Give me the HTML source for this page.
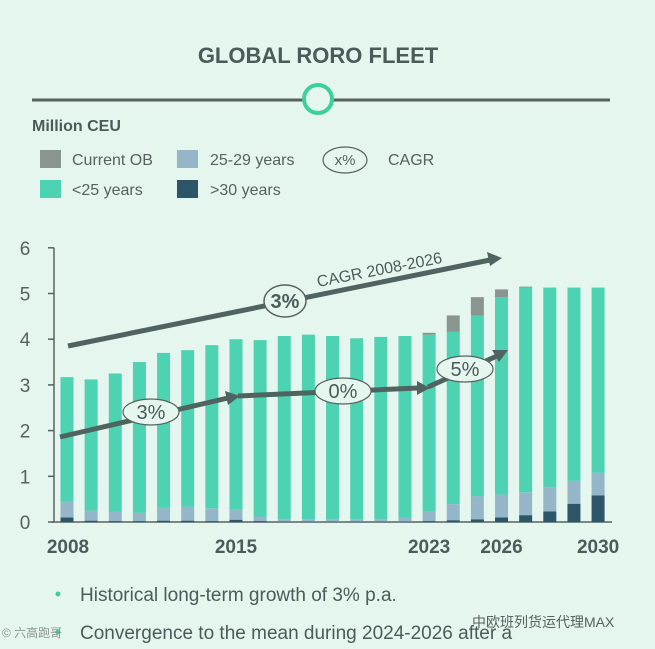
<!DOCTYPE html>
<html><head><meta charset="utf-8"><style>
body{margin:0;background:#e5f6ee;width:655px;height:649px;overflow:hidden;font-family:"Liberation Sans","Noto Sans CJK SC",sans-serif;}
</style></head><body>
<svg width="655" height="649" style="position:absolute;left:0;top:0">
<rect width="655" height="649" fill="#e5f6ee"/>
<text x="318" y="63" text-anchor="middle" font-size="22" font-weight="bold" fill="#4b5b59">GLOBAL RORO FLEET</text>
<line x1="32" y1="100" x2="610" y2="100" stroke="#56625f" stroke-width="3"/>
<circle cx="318" cy="99" r="14" fill="#e5f6ee" stroke="#3ecf9f" stroke-width="4"/>
<text x="32" y="131" font-size="16" font-weight="bold" fill="#4b5b59">Million CEU</text>
<g font-size="16" fill="#56625f">
<rect x="40" y="150" width="21" height="18" fill="#8a958f"/>
<text x="72" y="165">Current OB</text>
<rect x="40" y="180" width="21" height="18" fill="#4dd2b2"/>
<text x="72" y="195">&lt;25 years</text>
<rect x="177" y="150" width="21" height="18" fill="#95b6c8"/>
<text x="210" y="165">25-29 years</text>
<rect x="177" y="180" width="21" height="18" fill="#2c5568"/>
<text x="210" y="195">&gt;30 years</text>
<ellipse cx="345" cy="160" rx="22" ry="13" fill="none" stroke="#56625f" stroke-width="1.2"/>
<text x="345" y="165" text-anchor="middle" font-size="15">x%</text>
<text x="388" y="165">CAGR</text>
</g>
<g id="axes"></g>
<g id="bars"></g>
<g id="annot" fill="none" stroke="#4f6461" stroke-width="5">
<line x1="68" y1="346" x2="490" y2="260"/>
<polygon points="502,258 487,252 490,266" fill="#4f6461" stroke="none"/>
<polyline points="60,437 228,398"/>
<polygon points="240,396 225,391 228,405" fill="#4f6461" stroke="none"/>
<polyline points="238,396 418,388"/>
<polygon points="430,388 417,381 417,395" fill="#4f6461" stroke="none"/>
<polyline points="428,387 497,356"/>
<polygon points="508,350 492,350 499,362" fill="#4f6461" stroke="none"/>
</g>
<text x="318" y="287" transform="rotate(-11 318 287)" font-size="16" fill="#4b5b59">CAGR 2008-2026</text>
<g font-size="20" fill="#4b5b59" text-anchor="middle">
<ellipse cx="285" cy="301" rx="21" ry="16" fill="#e5f6ee" stroke="#56625f" stroke-width="1.5"/>
<text x="285" y="308" font-weight="bold">3%</text>
<ellipse cx="151" cy="412" rx="28" ry="13" fill="#e5f6ee" stroke="#56625f" stroke-width="1.2"/>
<text x="151" y="419">3%</text>
<ellipse cx="343" cy="391" rx="28" ry="13" fill="#e5f6ee" stroke="#56625f" stroke-width="1.2"/>
<text x="343" y="398">0%</text>
<ellipse cx="465" cy="369" rx="28" ry="13" fill="#e5f6ee" stroke="#56625f" stroke-width="1.2"/>
<text x="465" y="376">5%</text>
</g>
<circle cx="58" cy="594" r="2.5" fill="#3ecf9f"/>
<text x="80" y="601" font-size="19" fill="#4b5b59">Historical long-term growth of 3% p.a.</text>
<circle cx="58" cy="632" r="2.5" fill="#3ecf9f"/>
<text x="80" y="639" font-size="19" fill="#4b5b59">Convergence to the mean during 2024-2026 after a</text>
<text x="2" y="637" font-size="12" fill="#8a958f">© 六高跑哥</text>
<text x="472" y="627" font-size="14" fill="#56625f">中欧班列货运代理MAX</text>
</svg>
<script>
const years=[2008,2009,2010,2011,2012,2013,2014,2015,2016,2017,2018,2019,2020,2021,2022,2023,2024,2025,2026,2027,2028,2029,2030];
const totals=[3.17,3.12,3.25,3.5,3.7,3.76,3.87,4.0,3.98,4.07,4.1,4.07,4.02,4.05,4.07,4.1,4.16,4.52,4.92,5.13,5.13,5.13,5.13];
const old30=[0.1,0.03,0.02,0.02,0.03,0.03,0.02,0.05,0.02,0.01,0.01,0.01,0.01,0.01,0.01,0.02,0.04,0.06,0.1,0.15,0.23,0.4,0.58];
const mid2529=[0.35,0.22,0.2,0.18,0.28,0.3,0.28,0.22,0.1,0.05,0.05,0.05,0.05,0.05,0.08,0.22,0.35,0.5,0.5,0.5,0.53,0.5,0.5];
const orderbook=[0,0,0,0,0,0,0,0,0,0,0,0,0,0,0,0.04,0.36,0.4,0.17,0.02,0,0,0];
const yTicks=[0,1,2,3,4,5,6];
const xLabels=[2008,2015,2023,2026,2030];
const NS="http://www.w3.org/2000/svg";
const y=v=>522-v*45.7;
const x=i=>67+i*24.14;
const bw=13;
const ax=document.getElementById('axes'),bg=document.getElementById('bars');
function mk(t,a,p){const e=document.createElementNS(NS,t);for(const k in a)e.setAttribute(k,a[k]);p.appendChild(e);return e;}
let l=mk('line',{x1:52,y1:y(0),x2:612,y2:y(0),stroke:'#56625f','stroke-width':1.5},ax);


l=mk('line',{x1:54,y1:y(0),x2:54,y2:y(6),stroke:'#56625f','stroke-width':1.5},ax);


yTicks.forEach(v=>{
 const t=mk('line',{x1:48,y1:y(v),x2:54,y2:y(v),stroke:'#56625f','stroke-width':1.5},ax);
 
 
 const tx=mk('text',{x:25,y:y(v)+7,'text-anchor':'middle','font-size':19,fill:'#56625f'},ax);
 tx.textContent=v;
 
 
});
xLabels.forEach(yr=>{
 const i=years.indexOf(yr);
 const tx=mk('text',{x:x(i)+(yr===2008?1:0),y:553,'text-anchor':'middle','font-size':19,'font-weight':'bold',fill:'#4b5b59'},ax);
 tx.textContent=yr;
 
 
});
years.forEach((yr,i)=>{
 const g=totals[i]-old30[i]-mid2529[i];
 const segs=[[0,old30[i],'#2c5568','bar-old'],[old30[i],old30[i]+mid2529[i],'#95b6c8','bar-mid'],[old30[i]+mid2529[i],totals[i],'#4dd2b2','bar-young'],[totals[i],totals[i]+orderbook[i],'#8a958f','bar-orderbook']];
 segs.forEach(s=>{
  if(s[1]-s[0]<=0)return;
  const r=mk('rect',{x:x(i)-bw/2,y:y(s[1]),width:bw,height:y(s[0])-y(s[1]),fill:s[2]},bg);
  
  
 });
});
</script>
</body></html>
